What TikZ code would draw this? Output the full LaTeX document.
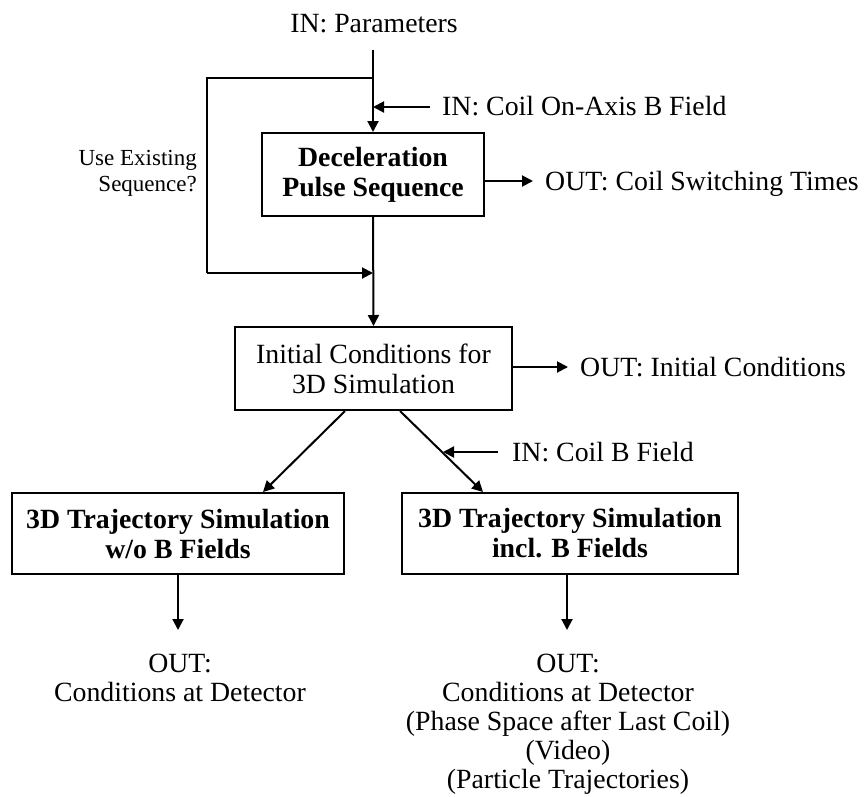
\documentclass[tikz,border=0pt]{standalone}
\usepackage{fontspec}
\setmainfont{Liberation Serif}
\usetikzlibrary{arrows.meta,calc}
\begin{document}
\begin{tikzpicture}[x=1pt,y=-1pt,
  box/.style={draw, line width=2pt, inner sep=0pt, align=center,
    font=\fontsize{27.8}{30}\selectfont\bfseries},
  plainbox/.style={box, font=\fontsize{27.8}{30}\selectfont},
  lbl/.style={inner sep=0pt, font=\fontsize{27.8}{29}\selectfont},
  small/.style={inner sep=0pt, align=right, font=\fontsize{23}{26}\selectfont},
  ln/.style={line width=2pt},
  conn/.style={line width=2pt, -{Triangle[length=11pt,width=11pt]}}]
\useasboundingbox (0,0) rectangle (864,796);

% boxes
\node[box, minimum width=222, minimum height=83] (decel) at (373,174.5)
  {Deceleration\\Pulse Sequence};
\node[plainbox, minimum width=277, minimum height=83] (init) at (373.5,368.5)
  {Initial Conditions for\\3D Simulation};
\node[box, minimum width=332, minimum height=81] (lbox) at (178,533.5)
  {3D Trajectory Simulation\\w/o B Fields};
\node[box, minimum width=336, minimum height=81] (rbox) at (570,533.5)
  {3D Trajectory Simulation\\incl. B Fields};

% labels
\node[lbl, anchor=base] (par) at (374,32) {IN: Parameters};
\node[lbl, anchor=base west] (axis) at (442,115) {IN: Coil On-Axis B Field};
\node[lbl, anchor=base west] (switch) at (545,190) {OUT: Coil Switching Times};
\node[lbl, anchor=base west] (icout) at (580,376) {OUT: Initial Conditions};
\node[lbl, anchor=base west] (bfield) at (512,461) {IN: Coil B Field};
\node[small, anchor=north east] (use) at (197,150) {Use Existing\\Sequence?};
\node[lbl, anchor=north, align=center] (outL) at (180,654)
  {OUT:\\Conditions at Detector};
\node[lbl, anchor=north, align=center] (outR) at (568,654)
  {OUT:\\Conditions at Detector\\(Phase Space after Last Coil)\\(Video)\\(Particle Trajectories)};

% coordinates
\coordinate (top) at (373,50);
\coordinate (split) at (373,78);
\coordinate (c1) at (207,78);
\coordinate (c2) at (207,273);
\coordinate (merge) at (373,273);
\coordinate (axisarr) at (430,107);
\coordinate (axistip) at (373,107);
\coordinate (swstart) at (484,181);
\coordinate (swend) at (533,181);
\coordinate (icstart) at (512,367);
\coordinate (icend) at (568,367);
\coordinate (bfarr) at (498,452);
\coordinate (bftip) at (443,452);
\coordinate (lend) at (178,630);
\coordinate (rend) at (567,630);

% connectors
\draw[conn] (top) -- (decel.north);
\draw[ln] (split) -- (c1) -- (c2);
\draw[conn] (c2) -- (merge);
\draw[conn] (axisarr) -- (axistip);
\draw[conn] (swstart) -- (swend);
\draw[conn] (decel.south) -- (init.north);
\draw[conn] (icstart) -- (icend);
\draw[conn] ($(init.south)+(-28.5,0)$) -- ($(lbox.north)+(85,0)$);
\draw[conn] ($(init.south)+(26.5,0)$) -- ($(rbox.north)+(-87,0)$);
\draw[conn] (bfarr) -- (bftip);
\draw[conn] (lbox.south) -- (lend);
\draw[conn] (rbox.south -| rend) -- (rend);
\end{tikzpicture}
\end{document}
